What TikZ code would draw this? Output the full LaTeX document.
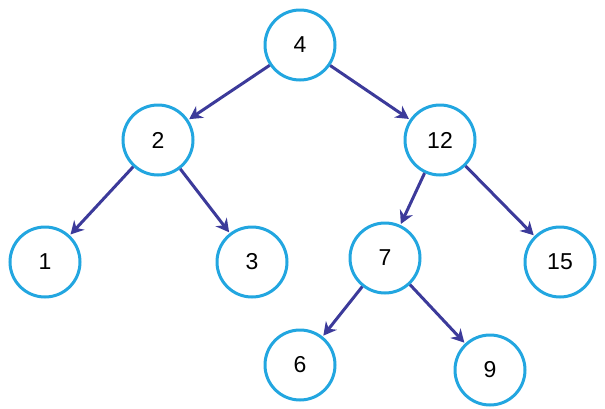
\documentclass[tikz,border=0pt]{standalone}
\usepackage{fontspec}
\setmainfont{Liberation Sans}
\usetikzlibrary{arrows.meta}
\definecolor{ring}{HTML}{22A6E0}
\definecolor{arr}{HTML}{3C3A9A}
\begin{document}
\begin{tikzpicture}[x=1pt,y=-1pt,
  nd/.style={circle,draw=ring,line width=3pt,minimum size=70pt,inner sep=0pt,font=\fontsize{23}{26}\selectfont,fill=white},
  ed/.style={draw=arr,line width=3pt,-{Stealth[length=13pt,width=14pt]},shorten >=1pt}]
\useasboundingbox (0,0) rectangle (605,408);
\node[nd] (n4) at (300,45) {4};
\node[nd] (n2) at (158,140) {2};
\node[nd] (n12) at (440,140) {12};
\node[nd] (n1) at (45,262) {1};
\node[nd] (n3) at (252,262) {3};
\node[nd] (n7) at (385,258) {7};
\node[nd] (n15) at (560,262) {15};
\node[nd] (n6) at (300,365) {6};
\node[nd] (n9) at (490,370) {9};
\draw[ed] (n4) -- (n2);
\draw[ed] (n4) -- (n12);
\draw[ed] (n2) -- (n1);
\draw[ed] (n2) -- (n3);
\draw[ed] (n12) -- (n7);
\draw[ed] (n12) -- (n15);
\draw[ed] (n7) -- (n6);
\draw[ed] (n7) -- (n9);
\end{tikzpicture}
\end{document}
